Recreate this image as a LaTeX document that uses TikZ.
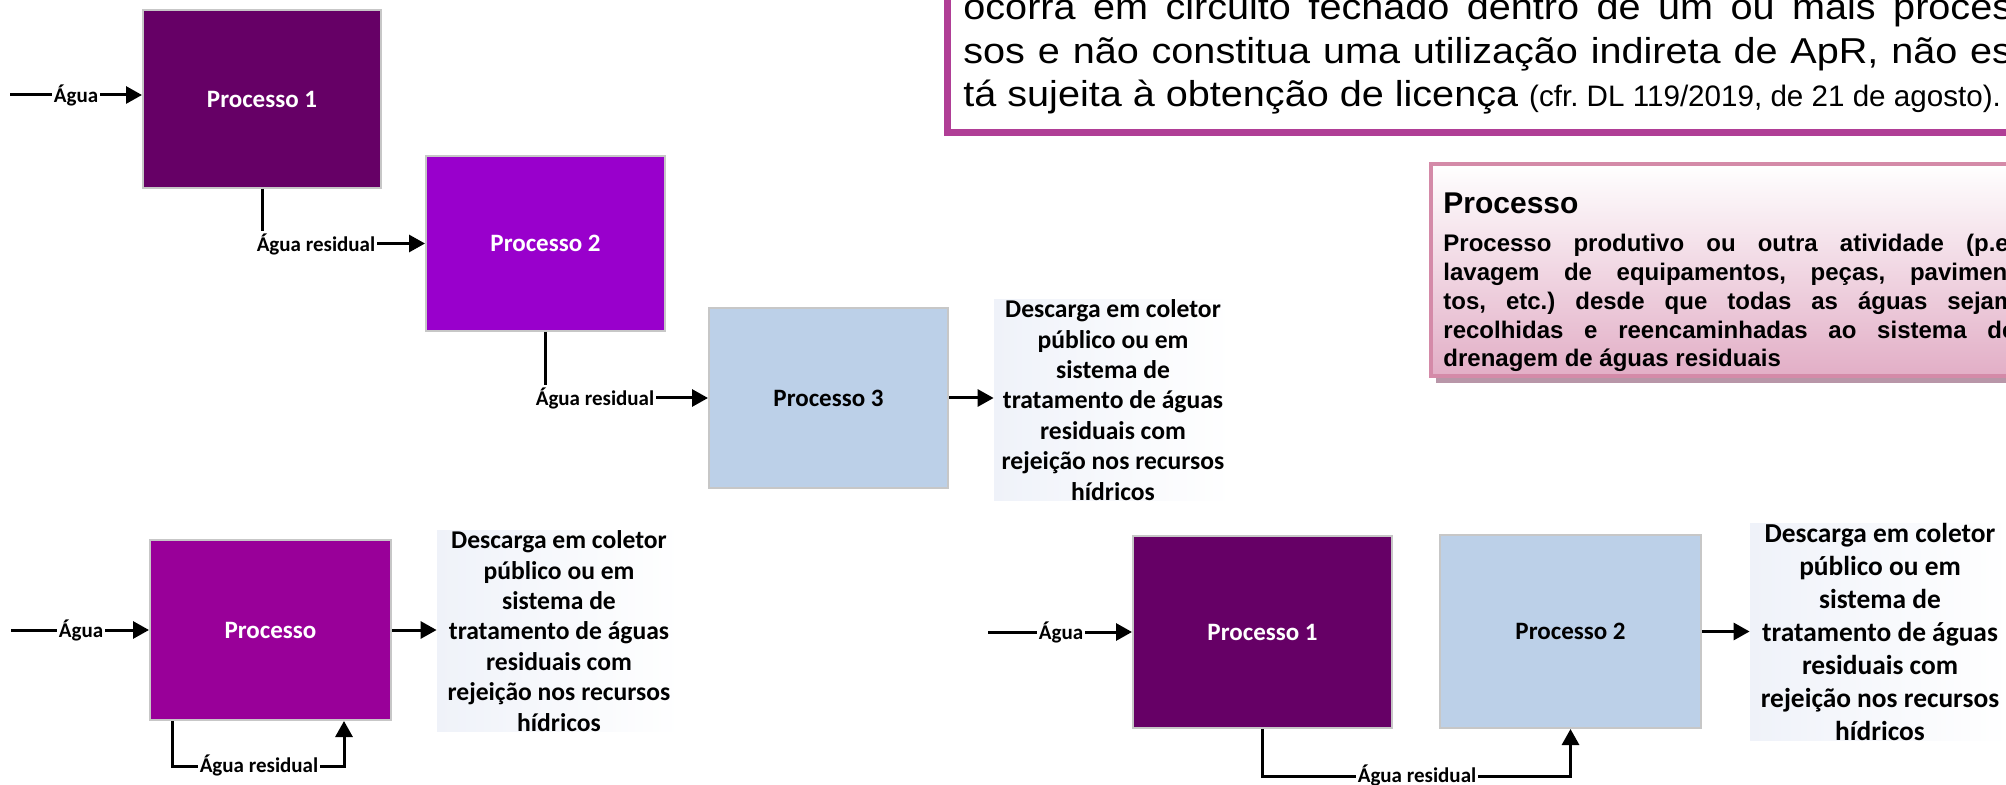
\documentclass[tikz,border=0pt]{standalone}
\usepackage{fontspec}
\setmainfont{Carlito}
\newfontfamily\arialw[FakeStretch=1.1]{Liberation Sans}
\newfontfamily\arialn{Liberation Sans}
\usetikzlibrary{arrows.meta,calc}
\definecolor{dpurple}{RGB}{102,0,102}
\definecolor{vpurple}{RGB}{153,0,204}
\definecolor{mpurple}{RGB}{153,0,153}
\definecolor{lblue}{RGB}{188,208,232}
\definecolor{magborder}{RGB}{176,62,150}
\definecolor{pinkborder}{RGB}{212,138,168}
\definecolor{pinkfill}{RGB}{226,174,198}
\definecolor{pinkshadow}{RGB}{184,150,168}
\definecolor{descbg}{RGB}{239,242,249}
\frenchspacing
\begin{document}
\begin{tikzpicture}[x=0.5pt,y=-0.5pt,
  proc/.style={draw=black!22, line width=1pt, inner sep=0pt, text=white,
    font=\bfseries\fontsize{12.5}{15}\selectfont},
  flow/.style={line width=1.5pt, -{Triangle[length=8pt,width=8.5pt]}},
  lbl/.style={fill=white, inner sep=1pt, font=\bfseries\fontsize{10.5}{12.6}\selectfont},
  desc/.style={align=center, inner sep=0pt, left color=descbg, right color=white,
    font=\bfseries\fontsize{12.8}{15.2}\selectfont},
  desclg/.style={desc, font=\bfseries\fontsize{13.7}{16.5}\selectfont},
  topline/.style={anchor=base west, inner sep=0pt, font=\arialw\fontsize{18}{21.75}\selectfont},
  defline/.style={anchor=base west, inner sep=0pt, font=\arialn\bfseries\fontsize{12}{14.4}\selectfont}
]
\useasboundingbox (0,0) rectangle (2006,785);
\clip (0,0) rectangle (2006,785);
\fill[white] (0,0) rectangle (2006,785);

% top-right note box
\draw[magborder, line width=3.5pt, fill=white] (947.5,-30) rectangle (2060,132.5);
\node[topline] (t1) at (963,20) {\makebox[531pt][s]{ocorra em circuito fechado dentro de um ou mais proces-}};
\node[topline] (t2) at (963,63.5) {\makebox[531pt][s]{sos e não constitua uma utilização indireta de ApR, não es-}};
\node[topline] (t3) at (963,107) {tá sujeita à obtenção de licença {\arialn\fontsize{14.8}{16}\selectfont (cfr. DL 119/2019, de 21 de agosto).}};

% definition box
\fill[pinkshadow] (1436,170) rectangle (2060,383);
\draw[pinkborder, line width=2pt, top color=white, bottom color=pinkfill] (1430.5,164.5) rectangle (2060,376.5);
\node[anchor=base west, inner sep=0pt, font=\arialn\bfseries\fontsize{15}{18}\selectfont] (dt) at (1443,214) {Processo};
\node[defline] (b1) at (1443,252) {\makebox[286pt][s]{Processo produtivo ou outra atividade (p.e.}};
\node[defline] (b2) at (1443,280.75) {\makebox[286pt][s]{lavagem de equipamentos, peças, pavimen-}};
\node[defline] (b3) at (1443,309.5) {\makebox[286pt][s]{tos, etc.) desde que todas as águas sejam}};
\node[defline] (b4) at (1443,338.25) {\makebox[286pt][s]{recolhidas e reencaminhadas ao sistema de}};
\node[defline] (b5) at (1443,367) {drenagem de águas residuais};

% process boxes
\node[proc, fill=dpurple, minimum width=119pt, minimum height=89pt] (A) at (262,99) {Processo 1};
\node[proc, fill=vpurple, minimum width=119.5pt, minimum height=87.5pt] (B) at (545.5,243.5) {Processo 2};
\node[proc, fill=lblue, text=black, minimum width=119.5pt, minimum height=90pt] (C) at (828.5,398) {Processo 3};
\node[proc, fill=mpurple, minimum width=120.5pt, minimum height=90pt] (D) at (270.5,630) {Processo};
\node[proc, fill=dpurple, minimum width=129.5pt, minimum height=96pt] (E) at (1262.5,632) {Processo 1};
\node[proc, fill=lblue, text=black, minimum width=130.5pt, minimum height=96.5pt] (F) at (1570.5,631.5) {Processo 2};

% discharge texts
\node[desc, minimum width=119pt, minimum height=95pt] (d1) at (1113,400)
  {Descarga em coletor\\público ou em\\sistema de\\tratamento de águas\\residuais com\\rejeição nos recursos\\hídricos};
\node[desc, minimum width=122pt, minimum height=92.5pt] (d2) at (559,631)
  {Descarga em coletor\\público ou em\\sistema de\\tratamento de águas\\residuais com\\rejeição nos recursos\\hídricos};
\node[desclg, minimum width=130pt, minimum height=104pt] (d3) at (1880,632)
  {Descarga em coletor\\público ou em\\sistema de\\tratamento de águas\\residuais com\\rejeição nos recursos\\hídricos};

% connectors: top group
\coordinate (a1) at (10,95);
\draw[flow] (a1) -- (a1 -| A.west);
\node[lbl] (la1) at (76,95) {Água};
\draw[flow] (A.south) |- (B.west);
\node[lbl] (lr1) at (316,244) {Água residual};
\draw[flow] (B.south) |- (C.west);
\node[lbl] (lr2) at (595,398) {Água residual};
\draw[flow] (C.east) -- (C.east -| d1.west);

% bottom-left group
\coordinate (a2) at (11,630);
\draw[flow] (a2) -- (a2 -| D.west);
\node[lbl] (la2) at (81,630) {Água};
\draw[flow] (D.east) -- (D.east -| d2.west);
\coordinate (r2a) at ($(D.south west)+(23,0)$);
\coordinate (r2b) at ($(D.south west)+(195,0)$);
\draw[flow] (r2a) -- ++(0,45) -| (r2b);
\node[lbl] (lr3) at (259,765) {Água residual};

% bottom-right group
\coordinate (a3) at (988,632);
\draw[flow] (a3) -- (a3 -| E.west);
\node[lbl] (la3) at (1061,632) {Água};
\draw[flow] (E.south) -- ++(0,47) -| (F.south);
\node[lbl] (lr4) at (1417,775) {Água residual};
\draw[flow] (F.east) -- (F.east -| d3.west);
\end{tikzpicture}
\end{document}
